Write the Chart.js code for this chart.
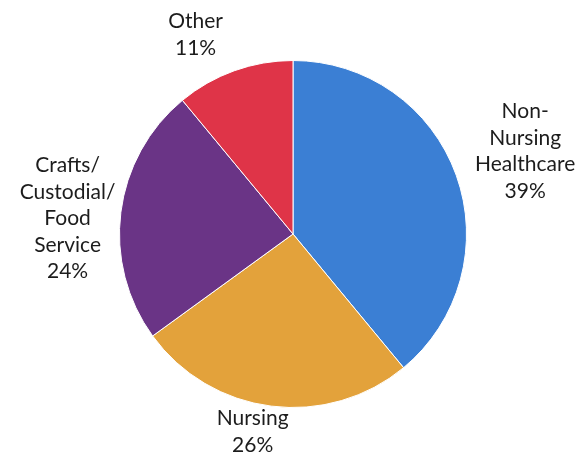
<!DOCTYPE html>
<html>
<head>
<meta charset="utf-8">
<script src="https://cdn.jsdelivr.net/npm/chart.js@4.4.0/dist/chart.umd.min.js"></script>
<style>
  html, body { margin: 0; padding: 0; background: #fff; }
  #wrap { width: 578px; height: 460px; }
</style>
</head>
<body>
<div id="wrap"><canvas id="pie" width="578" height="460"></canvas></div>
<script>
'use strict';
// categories, clockwise from 12 o'clock
const labels = [
    ['Non-', 'Nursing', 'Healthcare'],
    ['Nursing'],
    ['Crafts/', 'Custodial/', 'Food', 'Service'],
    ['Other']
];
const shares = [39, 26, 24, 11];
const colors = ['#3b7fd4', '#e3a23b', '#6a3486', '#df3448'];

const FONT = '21px Lato, "Open Sans", sans-serif';
const LINE_H = 26.5;
// small hand nudges so labels sit where the original placed them
const labelNudge = [[2, 0], [-14, -11], [8, 14], [-25, 2]];

// draws the multi-line category + percent labels outside each slice
const outsideLabels = {
    id: 'outsideLabels',
    afterDraw(chart) {
        const ctx = chart.ctx;
        const meta = chart.getDatasetMeta(0);
        ctx.save();
        ctx.font = FONT;
        ctx.fillStyle = '#1c1c1c';
        ctx.textAlign = 'center';
        ctx.textBaseline = 'middle';
        meta.data.forEach((arc, i) => {
            const lines = labels[i].concat([shares[i] + '%']);
            const w = Math.max(...lines.map(l => ctx.measureText(l).width));
            const h = lines.length * LINE_H;
            const mid = (arc.startAngle + arc.endAngle) / 2;
            const dx = Math.cos(mid), dy = Math.sin(mid);
            const d = arc.outerRadius + 6 + Math.abs(dx) * w / 2 + Math.abs(dy) * h / 2;
            const cx = arc.x + dx * d + labelNudge[i][0];
            const cy = arc.y + dy * d + labelNudge[i][1];
            lines.forEach((l, k) => {
                ctx.fillText(l, cx, cy - h / 2 + LINE_H * (k + 0.5));
            });
        });
        ctx.restore();
    }
};

new Chart(document.getElementById('pie'), {
    type: 'pie',
    data: {
        labels: labels.map(l => l.join(' ')),
        datasets: [{
            data: shares,
            backgroundColor: colors,
            borderColor: '#ffffff',
            borderWidth: 1
        }]
    },
    options: {
        responsive: false,
        animation: false,
        layout: { padding: { top: 60, bottom: 52, left: 119, right: 111 } },
        plugins: {
            legend: { display: false },
            tooltip: { enabled: false }
        }
    },
    plugins: [outsideLabels]
});
</script>
</body>
</html>
